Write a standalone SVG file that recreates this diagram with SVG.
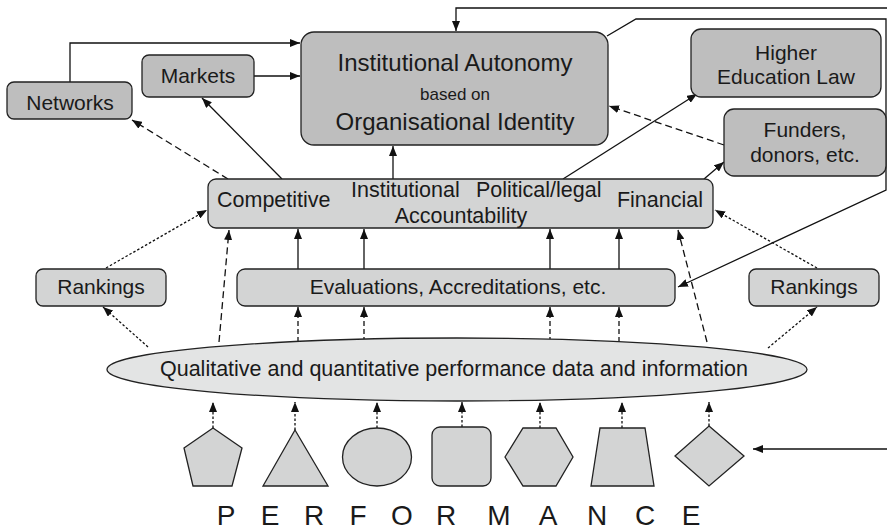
<svg xmlns="http://www.w3.org/2000/svg" width="887" height="530" viewBox="0 0 887 530">
<style>
text{font-family:"Liberation Sans",Arial,sans-serif;fill:#1a1a1a}
.lbl{font-size:21px;text-anchor:middle}
.dark{fill:#bebebe;stroke:#222;stroke-width:1.3}
.mid{fill:#d3d4d4;stroke:#222;stroke-width:1.3}
.light{fill:#e3e4e4;stroke:#222;stroke-width:1.3}
.c{fill:none;stroke:#111;stroke-width:1.3}
.dash{stroke-dasharray:7,4}
.sdash{stroke-dasharray:5,3}
.dot{stroke-dasharray:2.5,2}
.arr{marker-end:url(#ah)}
</style>
<defs>
<marker id="ah" viewBox="0 0 10 8" refX="10" refY="4" markerWidth="10" markerHeight="8" orient="auto" markerUnits="userSpaceOnUse">
<path d="M0,0 L10,4 L0,8 z" fill="#111"/>
</marker>
</defs>

<g id="connectors">
<path class="c arr" d="M887,8 H456 V31"/>
<path class="c arr" d="M607,36 L636,19 H886 V190 L678,287"/>
<path class="c arr" d="M70,82 V43 H300"/>
<path class="c arr" d="M254,76 H300"/>
<path class="c arr" d="M282,179 L202,98"/>
<path class="c dash arr" d="M228,179 L132,120"/>
<path class="c arr" d="M393,179 V146"/>
<path class="c arr" d="M563,179 L697,94"/>
<path class="c arr" d="M704,179 L724,162"/>
<path class="c dash arr" d="M724,145 L609,106"/>
<path class="c dot arr" d="M106,268 L207,210"/>
<path class="c dot arr" d="M148,347 L103,307"/>
<path class="c dash arr" d="M219,342 L229,230"/>
<path class="c sdash arr" d="M298,342 V307"/>
<path class="c sdash arr" d="M364,342 V307"/>
<path class="c sdash arr" d="M550,342 V307"/>
<path class="c sdash arr" d="M619,342 V307"/>
<path class="c arr" d="M298,269 V229"/>
<path class="c arr" d="M364,269 V229"/>
<path class="c arr" d="M550,269 V229"/>
<path class="c arr" d="M619,269 V229"/>
<path class="c dash arr" d="M707,342 L678,230"/>
<path class="c dot arr" d="M817,268 L715,210"/>
<path class="c dot arr" d="M768,348 L817,307"/>
<path class="c dot arr" d="M213,428 V402"/>
<path class="c dot arr" d="M295,430 V402"/>
<path class="c dot arr" d="M377,428 V402"/>
<path class="c dot arr" d="M462,427 V402"/>
<path class="c dot arr" d="M540,428 V402"/>
<path class="c dot arr" d="M622,428 V402"/>
<path class="c dot arr" d="M709,426 V402"/>
<path class="c arr" d="M887,449 H753"/>
</g>

<g id="networks">
<rect class="dark" x="7" y="82" width="125" height="37" rx="7"/>
<text class="lbl" x="70" y="110">Networks</text>
</g>
<g id="markets">
<rect class="dark" x="142" y="55" width="112" height="42" rx="7"/>
<text class="lbl" x="198" y="83">Markets</text>
</g>
<g id="autonomy">
<rect class="dark" x="301" y="32" width="307" height="113" rx="13"/>
<text class="lbl" x="455" y="71" style="font-size:24px">Institutional Autonomy</text>
<text class="lbl" x="455" y="100" style="font-size:17px">based on</text>
<text class="lbl" x="455" y="130" style="font-size:24px">Organisational Identity</text>
</g>
<g id="law">
<rect class="dark" x="691" y="29" width="190" height="68" rx="10"/>
<text class="lbl" x="786" y="60">Higher</text>
<text class="lbl" x="786" y="84">Education Law</text>
</g>
<g id="funders">
<rect class="dark" x="724" y="109" width="162" height="67" rx="10"/>
<text class="lbl" x="805" y="137">Funders,</text>
<text class="lbl" x="805" y="162">donors, etc.</text>
</g>
<g id="accountability">
<rect class="mid" x="208" y="179" width="505" height="49" rx="8"/>
<text x="217" y="207" style="font-size:21.5px">Competitive</text>
<text x="351" y="197" style="font-size:21.5px">Institutional</text>
<text x="476" y="197" style="font-size:21.5px">Political/legal</text>
<text x="703" y="207" style="font-size:21.5px;text-anchor:end">Financial</text>
<text class="lbl" x="461" y="223" style="font-size:21.5px">Accountability</text>
</g>
<g id="rankings-left">
<rect class="mid" x="36" y="269" width="130" height="37" rx="7"/>
<text class="lbl" x="101" y="294">Rankings</text>
</g>
<g id="evaluations">
<rect class="mid" x="237" y="269" width="438" height="37" rx="8"/>
<text class="lbl" x="458" y="294">Evaluations, Accreditations, etc.</text>
</g>
<g id="rankings-right">
<rect class="mid" x="749" y="269" width="130" height="37" rx="7"/>
<text class="lbl" x="814" y="294">Rankings</text>
</g>
<g id="data">
<ellipse class="light" cx="457" cy="369.5" rx="350" ry="31.5"/>
<text class="lbl" x="454" y="376" style="font-size:21.5px">Qualitative and quantitative performance data and information</text>
</g>
<g id="shapes">
<polygon class="mid" points="213,428 242,448 232,486 193,486 184,448"/>
<polygon class="mid" points="295,430 328,486 263,486"/>
<ellipse class="mid" cx="377" cy="457" rx="34.5" ry="29"/>
<rect class="mid" x="432" y="427" width="59" height="59" rx="8"/>
<polygon class="mid" points="505,457 523,428 556,428 573,457 556,486 523,486"/>
<polygon class="mid" points="600,428 645,428 654,486 591,486"/>
<polygon class="mid" points="709,426 744,456 709,486 675,456"/>
</g>
<g id="performance">
<text x="226 270 314 358 402 446 499 548 597 645 691" y="525" style="font-size:28px;text-anchor:middle">PERFORMANCE</text>
</g>
</svg>
